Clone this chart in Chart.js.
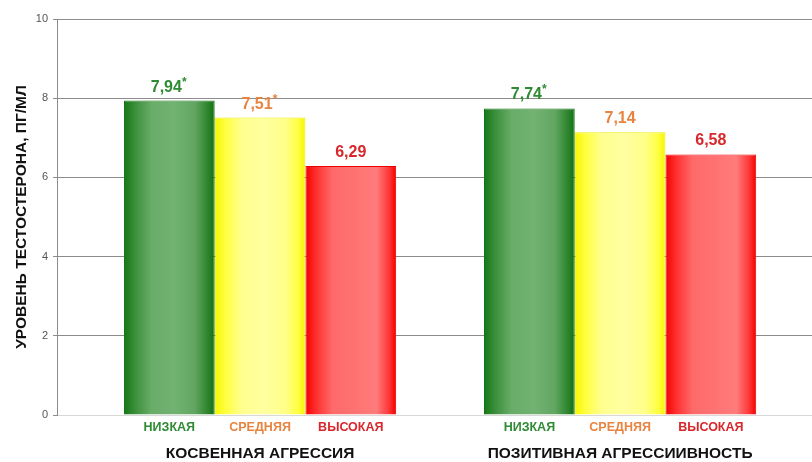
<!DOCTYPE html>
<html>
<head>
<meta charset="utf-8">
<script src="https://cdn.jsdelivr.net/npm/chart.js@4.4.1/dist/chart.umd.min.js"></script>
<style>
  html, body { margin: 0; padding: 0; background: #fff; }
  #wrap { width: 812px; height: 462px; }
</style>
</head>
<body>
<div id="wrap"><canvas id="myChart"></canvas></div>
<script>
const groups = ['КОСВЕННАЯ АГРЕССИЯ', 'ПОЗИТИВНАЯ АГРЕССИИВНОСТЬ'];
const levels = ['НИЗКАЯ', 'СРЕДНЯЯ', 'ВЫСОКАЯ'];
const lowValues = [7.94, 7.74];
const midValues = [7.51, 7.14];
const highValues = [6.29, 6.58];
// значимость отличий (звездочка)
const lowMarks = [true, true];
const midMarks = [true, false];
const highMarks = [false, false];
const yTicks = [0, 2, 4, 6, 8, 10];

const seriesValues = [lowValues, midValues, highValues];
const seriesMarks = [lowMarks, midMarks, highMarks];
const labelColors = ['#2f8a34', '#e8843f', '#d9272b'];
const gradOffsets = [0, 0.12, 0.3, 0.55, 0.78, 0.92, 1];
const gradStops = [
  ['#147814', '#3a8e3a', '#68ac68', '#72b272', '#62a662', '#2f862f', '#117011'],
  ['#f6f600', '#ffff40', '#ffff90', '#ffffa0', '#ffff88', '#ffff40', '#f4f400'],
  ['#f40000', '#ff3030', '#ff6a6a', '#ff7272', '#ff7c7c', '#ff3838', '#f20000'],
];
const borderColors = ['#157015', '#eeee00', '#ee0000'];

const FONT = "'Liberation Sans', Arial, sans-serif";

const barLook = {
  id: 'barLook',
  beforeDatasetsDraw(chart) {
    const ctx = chart.ctx;
    chart.getSortedVisibleDatasetMetas().forEach((meta) => {
      const d = meta.index;
      meta.data.forEach((bar) => {
        const g = ctx.createLinearGradient(bar.x - bar.width / 2, 0, bar.x + bar.width / 2, 0);
        gradOffsets.forEach((o, k) => g.addColorStop(o, gradStops[d][k]));
        bar.options = Object.assign({}, bar.options, { backgroundColor: g });
      });
    });
  },
  afterDatasetsDraw(chart) {
    const ctx = chart.ctx;
    const area = chart.chartArea;
    ctx.save();
    chart.getSortedVisibleDatasetMetas().forEach((meta) => {
      const d = meta.index;
      meta.data.forEach((bar, i) => {
        const v = seriesValues[d][i];
        const txt = v.toFixed(2).replace('.', ',');
        ctx.fillStyle = labelColors[d];
        ctx.font = 'bold 16px ' + FONT;
        ctx.textBaseline = 'alphabetic';
        const w = ctx.measureText(txt).width;
        const star = seriesMarks[d][i];
        const sw = star ? 6 : 0;
        const x0 = bar.x - (w + sw) / 2;
        ctx.textAlign = 'left';
        ctx.fillText(txt, x0, bar.y - 9);
        if (star) {
          ctx.font = 'bold 12px ' + FONT;
          ctx.fillText('*', x0 + w, bar.y - 15);
        }
        // подпись уровня под столбиком
        ctx.font = 'bold 12.5px ' + FONT;
        ctx.textAlign = 'center';
        ctx.textBaseline = 'middle';
        ctx.fillText(levels[d], bar.x, area.bottom + 13);
      });
    });
    ctx.restore();
  },
};

const chartData = {
  datasets: seriesValues.map((vals, d) => ({
    label: levels[d],
    data: vals.map((v, i) => ({ x: i + 1, y: v })),
    backgroundColor: gradStops[d][3],
    borderColor: borderColors[d],
    borderWidth: 1,
    categoryPercentage: 0.756,
    barPercentage: 1,
  })),
};

const config = {
  type: 'bar',
  data: chartData,
  options: {
    responsive: true,
    maintainAspectRatio: false,
    animation: false,
    layout: { padding: { top: 19, right: 0, left: 0, bottom: 0 } },
    plugins: {
      legend: { display: false },
      tooltip: { enabled: false },
    },
    scales: {
      x: {
        type: 'linear',
        offset: false,
        bounds: 'data',
        min: 0.436,
        max: 2.533,
        grid: { display: false, offset: false },
        border: { display: false },
        afterBuildTicks: (scale) => {
          scale.ticks = groups.map((g, i) => ({ value: i + 1 }));
        },
        afterFit: (scale) => { scale.height = 47; },
        ticks: {
          autoSkip: false,
          maxRotation: 0,
          padding: 21,
          color: '#111',
          font: { family: FONT, size: 15.5, weight: 'bold' },
          callback: (value) => groups[Math.round(value) - 1] || '',
        },
      },
      y: {
        min: 0,
        max: 10,
        afterBuildTicks: (scale) => {
          scale.ticks = yTicks.map((v) => ({ value: v }));
        },
        afterFit: (scale) => { scale.width = 57; },
        grid: {
          color: (c) => (c.tick && c.tick.value === 0 ? '#d8d8d8' : '#8c8c8c'),
          tickLength: 4,
          tickColor: '#8c8c8c',
        },
        border: { color: '#8c8c8c', width: 1 },
        ticks: {
          padding: 5,
          color: '#555',
          font: { family: FONT, size: 11 },
        },
        title: {
          display: true,
          text: 'УРОВЕНЬ ТЕСТОСТЕРОНА, ПГ/МЛ',
          color: '#111',
          padding: { top: 12, bottom: 0 },
          font: { family: FONT, size: 15.5, weight: 'bold' },
        },
      },
    },
  },
  plugins: [barLook],
};

const myChart = new Chart(document.getElementById('myChart'), config);
</script>
</body>
</html>
